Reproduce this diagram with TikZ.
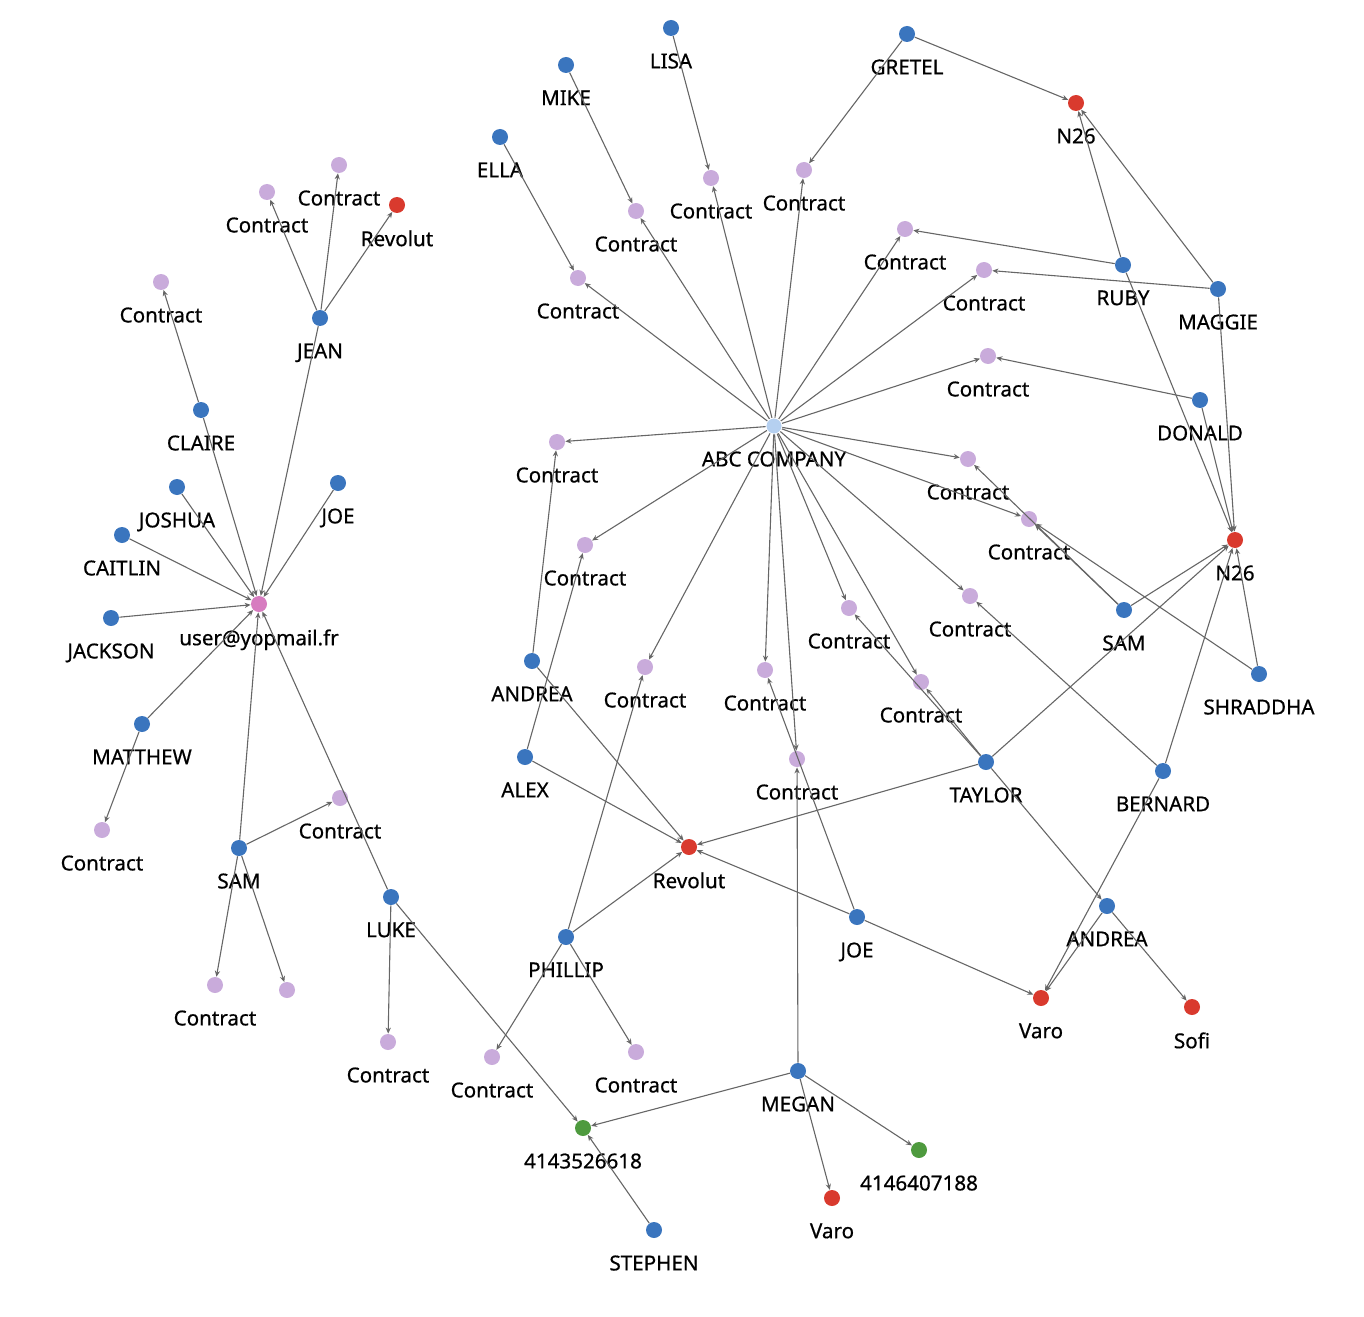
\documentclass[tikz,border=0pt]{standalone}
\usepackage{fontspec}
\setmainfont{Noto Sans}
\newfontfamily\lblfont{Noto Sans}[FakeBold=0.6]
\usetikzlibrary{arrows.meta}
\definecolor{person}{HTML}{3A75BE}
\definecolor{bank}{HTML}{D93A2E}
\definecolor{phone}{HTML}{4E9A3E}
\definecolor{contr}{HTML}{C9ABDB}
\definecolor{mail}{HTML}{D77CC0}
\definecolor{corp}{HTML}{B5D0F0}
\tikzset{
  vtx/.style={circle,inner sep=0pt,minimum size=8pt,
    label={[font=\lblfont\fontsize{10.3}{12}\selectfont,label distance=5pt]below:#1}},
  pers/.style={vtx=#1,fill=person},
  bnk/.style={vtx=#1,fill=bank},
  phn/.style={vtx=#1,fill=phone},
  ctr/.style={vtx=#1,fill=contr},
  link/.style={draw=black!60,line width=0.55pt,-{Stealth[length=3pt,width=2.6pt]}}
}
\begin{document}
\begin{tikzpicture}[x=0.5pt,y=-0.5pt]
\useasboundingbox (0,0) rectangle (1364,1316);
% hubs
\node (abc)  at (774,426) [vtx=ABC COMPANY,fill=corp,draw=white] {};
\node (mail) at (259,604) [vtx=user@yopmail.fr,fill=mail] {};
% people
\node (lisa)    at (671,28)   [pers=LISA] {};
\node (mike)    at (566,65)   [pers=MIKE] {};
\node (ella)    at (500,137)  [pers=ELLA] {};
\node (gretel)  at (907,34)   [pers=GRETEL] {};
\node (ruby)    at (1123,265) [pers=RUBY] {};
\node (maggie)  at (1218,289) [pers=MAGGIE] {};
\node (donald)  at (1200,400) [pers=DONALD] {};
\node (jean)    at (320,318)  [pers=JEAN] {};
\node (claire)  at (201,410)  [pers=CLAIRE] {};
\node (joshua)  at (177,487)  [pers=JOSHUA] {};
\node (caitlin) at (122,535)  [pers=CAITLIN] {};
\node (joeA)    at (338,483)  [pers=JOE] {};
\node (jackson) at (111,618)  [pers=JACKSON] {};
\node (matthew) at (142,724)  [pers=MATTHEW] {};
\node (samA)    at (239,848)  [pers=SAM] {};
\node (luke)    at (391,897)  [pers=LUKE] {};
\node (andreaA) at (532,661)  [pers=ANDREA] {};
\node (alex)    at (525,757)  [pers=ALEX] {};
\node (phillip) at (566,937)  [pers=PHILLIP] {};
\node (joeB)    at (857,917)  [pers=JOE] {};
\node (megan)   at (798,1071) [pers=MEGAN] {};
\node (stephen) at (654,1230) [pers=STEPHEN] {};
\node (taylor)  at (986,762)  [pers=TAYLOR] {};
\node (bernard) at (1163,771) [pers=BERNARD] {};
\node (samB)    at (1124,610) [pers=SAM] {};
\node (shrad)   at (1259,674) [pers=SHRADDHA] {};
\node (andreaB) at (1107,906) [pers=ANDREA] {};
% banks and phones
\node (n26A)  at (1076,103) [bnk=N26] {};
\node (n26B)  at (1235,540) [bnk=N26] {};
\node (revA)  at (397,205)  [bnk=Revolut] {};
\node (revB)  at (689,847)  [bnk=Revolut] {};
\node (varoA) at (1041,998) [bnk=Varo] {};
\node (sofi)  at (1192,1007) [bnk=Sofi] {};
\node (varoB) at (832,1198) [bnk=Varo] {};
\node (telA)  at (583,1128) [phn=4143526618] {};
\node (telB)  at (919,1150) [phn=4146407188] {};
% contracts
\node (c1)  at (711,178)  [ctr=Contract] {};
\node (c2)  at (804,170)  [ctr=Contract] {};
\node (c3)  at (636,211)  [ctr=Contract] {};
\node (c4)  at (578,278)  [ctr=Contract] {};
\node (c5)  at (905,229)  [ctr=Contract] {};
\node (c6)  at (984,270)  [ctr=Contract] {};
\node (c7)  at (988,356)  [ctr=Contract] {};
\node (c8)  at (557,442)  [ctr=Contract] {};
\node (c9)  at (968,459)  [ctr=Contract] {};
\node (c10) at (1029,519) [ctr=Contract] {};
\node (c11) at (585,545)  [ctr=Contract] {};
\node (c12) at (645,667)  [ctr=Contract] {};
\node (c13) at (765,670)  [ctr=Contract] {};
\node (c14) at (849,608)  [ctr=Contract] {};
\node (c15) at (970,596)  [ctr=Contract] {};
\node (c16) at (921,682)  [ctr=Contract] {};
\node (c17) at (797,759)  [ctr=Contract] {};
\node (c18) at (267,192)  [ctr=Contract] {};
\node (c19) at (339,165)  [ctr=Contract] {};
\node (c20) at (161,282)  [ctr=Contract] {};
\node (c21) at (102,830)  [ctr=Contract] {};
\node (c22) at (340,798)  [ctr=Contract] {};
\node (c23) at (215,985)  [ctr=Contract] {};
\node (c24) at (287,990)  [ctr=] {};
\node (c25) at (388,1042) [ctr=Contract] {};
\node (c26) at (492,1057) [ctr=Contract] {};
\node (c27) at (636,1052) [ctr=Contract] {};
% edges
\foreach \c in {c1,c2,c3,c4,c5,c6,c7,c8,c9,c10,c11,c12,c13,c14,c15,c16,c17}
  \path [link] (abc) -- (\c);
\foreach \p in {jean,claire,joshua,caitlin,joeA,jackson,matthew,samA,luke}
  \path [link] (\p) -- (mail);
\foreach \a/\b in {lisa/c1,gretel/c2,mike/c3,ella/c4,ruby/c5,maggie/c6,donald/c7,
    andreaA/c8,samB/c9,samB/c10,shrad/c10,alex/c11,phillip/c12,joeB/c13,taylor/c14,
    bernard/c15,taylor/c16,megan/c17,jean/c18,jean/c19,jean/revA,claire/c20,
    matthew/c21,samA/c22,samA/c23,samA/c24,luke/c25,phillip/c26,phillip/c27,
    gretel/n26A,ruby/n26A,maggie/n26A,ruby/n26B,maggie/n26B,donald/n26B,samB/n26B,
    shrad/n26B,bernard/n26B,taylor/n26B,andreaA/revB,alex/revB,taylor/revB,
    joeB/revB,phillip/revB,joeB/varoA,bernard/varoA,andreaB/varoA,andreaB/sofi,
    taylor/andreaB,luke/telA,megan/telA,stephen/telA,megan/varoB,megan/telB}
  \path [link] (\a) -- (\b);
\end{tikzpicture}
\end{document}
